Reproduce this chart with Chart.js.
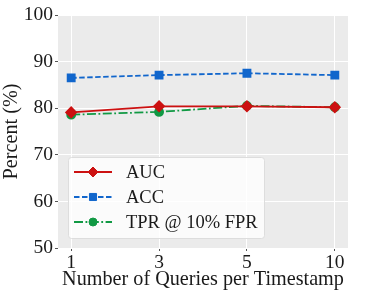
<!DOCTYPE html>
<html>
<head>
<meta charset="utf-8">
<script src="https://cdn.jsdelivr.net/npm/chart.js@4.4.0/dist/chart.umd.min.js"></script>
<style>
html,body{margin:0;padding:0;background:#fff;}
#wrap{width:366px;height:292px;}
</style>
</head>
<body>
<div id="wrap"><canvas id="c" width="366" height="292"></canvas></div>
<script>
const categories = ['1', '3', '5', '10'];
const auc = [79.1, 80.4, 80.4, 80.2];
const acc = [86.5, 87.1, 87.5, 87.1];
const tpr = [78.6, 79.2, 80.5, 80.2];
const yTicks = [50, 60, 70, 80, 90, 100];
const seriesNames = ['AUC', 'ACC', 'TPR @ 10% FPR'];

const FONT = "'Liberation Serif', 'Times New Roman', serif";
const toPts = arr => arr.map((v, i) => ({x: i, y: v}));

const bgPlugin = {
  id: 'bg',
  beforeDraw(chart) {
    const {ctx, chartArea: a} = chart;
    ctx.save();
    ctx.fillStyle = '#EBEBEB';
    ctx.fillRect(a.left, a.top, a.right - a.left, a.bottom - a.top);
    ctx.restore();
  }
};

const legendPlugin = {
  id: 'inLegend',
  afterDatasetsDraw(chart) {
    const {ctx} = chart;
    const x0 = 68, y0 = 157, w = 196, h = 81, r = 3;
    ctx.save();
    ctx.beginPath();
    ctx.roundRect(x0 + 0.5, y0 + 0.5, w, h, r);
    ctx.fillStyle = 'rgba(255,255,255,0.8)';
    ctx.fill();
    ctx.strokeStyle = '#DDDDDD';
    ctx.lineWidth = 1;
    ctx.stroke();
    chart.data.datasets.forEach((ds, i) => {
      const y = 172 + i * 25;
      ctx.beginPath();
      ctx.setLineDash(ds.borderDash || []);
      ctx.strokeStyle = ds.borderColor;
      ctx.lineWidth = ds.borderWidth;
      ctx.moveTo(74, y);
      ctx.lineTo(112, y);
      ctx.stroke();
      ctx.setLineDash([]);
      ctx.fillStyle = ds.pointBackgroundColor;
      ctx.strokeStyle = ds.pointBorderColor;
      ctx.lineWidth = 1;
      Chart.helpers.drawPoint(ctx, {pointStyle: ds.pointStyle, radius: ds.pointRadius, borderWidth: 1, rotation: 0}, 93, y);
      ctx.fillStyle = '#1a1a1a';
      ctx.font = '18.5px ' + FONT;
      ctx.textBaseline = 'middle';
      ctx.fillText(ds.label, 126, y + 1);
    });
    ctx.restore();
  }
};

new Chart(document.getElementById('c'), {
  type: 'line',
  data: {
    datasets: [
      {label: seriesNames[0], data: toPts(auc), borderColor: '#CC1111', backgroundColor: '#CC1111',
       pointBackgroundColor: '#CC1111', pointBorderColor: '#CC1111', borderWidth: 1.8,
       pointStyle: 'rectRot', pointRadius: 5, borderDash: []},
      {label: seriesNames[1], data: toPts(acc), borderColor: '#1166CC', backgroundColor: '#1166CC',
       pointBackgroundColor: '#1166CC', pointBorderColor: '#1166CC', borderWidth: 1.8,
       pointStyle: 'rect', pointRadius: 5, borderDash: [5.5, 2.5]},
      {label: seriesNames[2], data: toPts(tpr), borderColor: '#119944', backgroundColor: '#119944',
       pointBackgroundColor: '#119944', pointBorderColor: '#119944', borderWidth: 1.8,
       pointStyle: 'circle', pointRadius: 4, borderDash: [9, 2.5, 1.8, 2.5]}
    ]
  },
  options: {
    responsive: false,
    animation: false,
    layout: {padding: {top: 15, right: 18, left: 0, bottom: 0}},
    plugins: {legend: {display: false}, tooltip: {enabled: false}},
    scales: {
      x: {
        type: 'linear', min: -0.15, max: 3.15,
        afterBuildTicks: s => { s.ticks = categories.map((c, i) => ({value: i})); },
        afterFit: s => { s.height = 44; },
        ticks: {callback: v => categories[v], color: '#1a1a1a', font: {family: FONT, size: 19.5}, padding: 0, maxRotation: 0},
        grid: {color: '#FFFFFF', lineWidth: 1, tickColor: '#555', tickLength: 3},
        border: {display: false},
        title: {display: true, text: 'Number of Queries per Timestamp', color: '#1a1a1a',
                font: {family: FONT, size: 20.2}, padding: {top: 0, bottom: 0}}
      },
      y: {
        min: 50, max: 100,
        afterBuildTicks: s => { s.ticks = yTicks.map(v => ({value: v})); },
        afterFit: s => { s.width = 58; },
        ticks: {color: '#1a1a1a', font: {family: FONT, size: 19.5}, padding: 2},
        grid: {color: '#FFFFFF', lineWidth: 1, tickColor: '#555', tickLength: 3},
        border: {display: false},
        title: {display: true, text: 'Percent (%)', color: '#1a1a1a',
                font: {family: FONT, size: 20.2}, padding: {top: 0, bottom: 0}}
      }
    }
  },
  plugins: [bgPlugin, legendPlugin]
});
</script>
</body>
</html>
